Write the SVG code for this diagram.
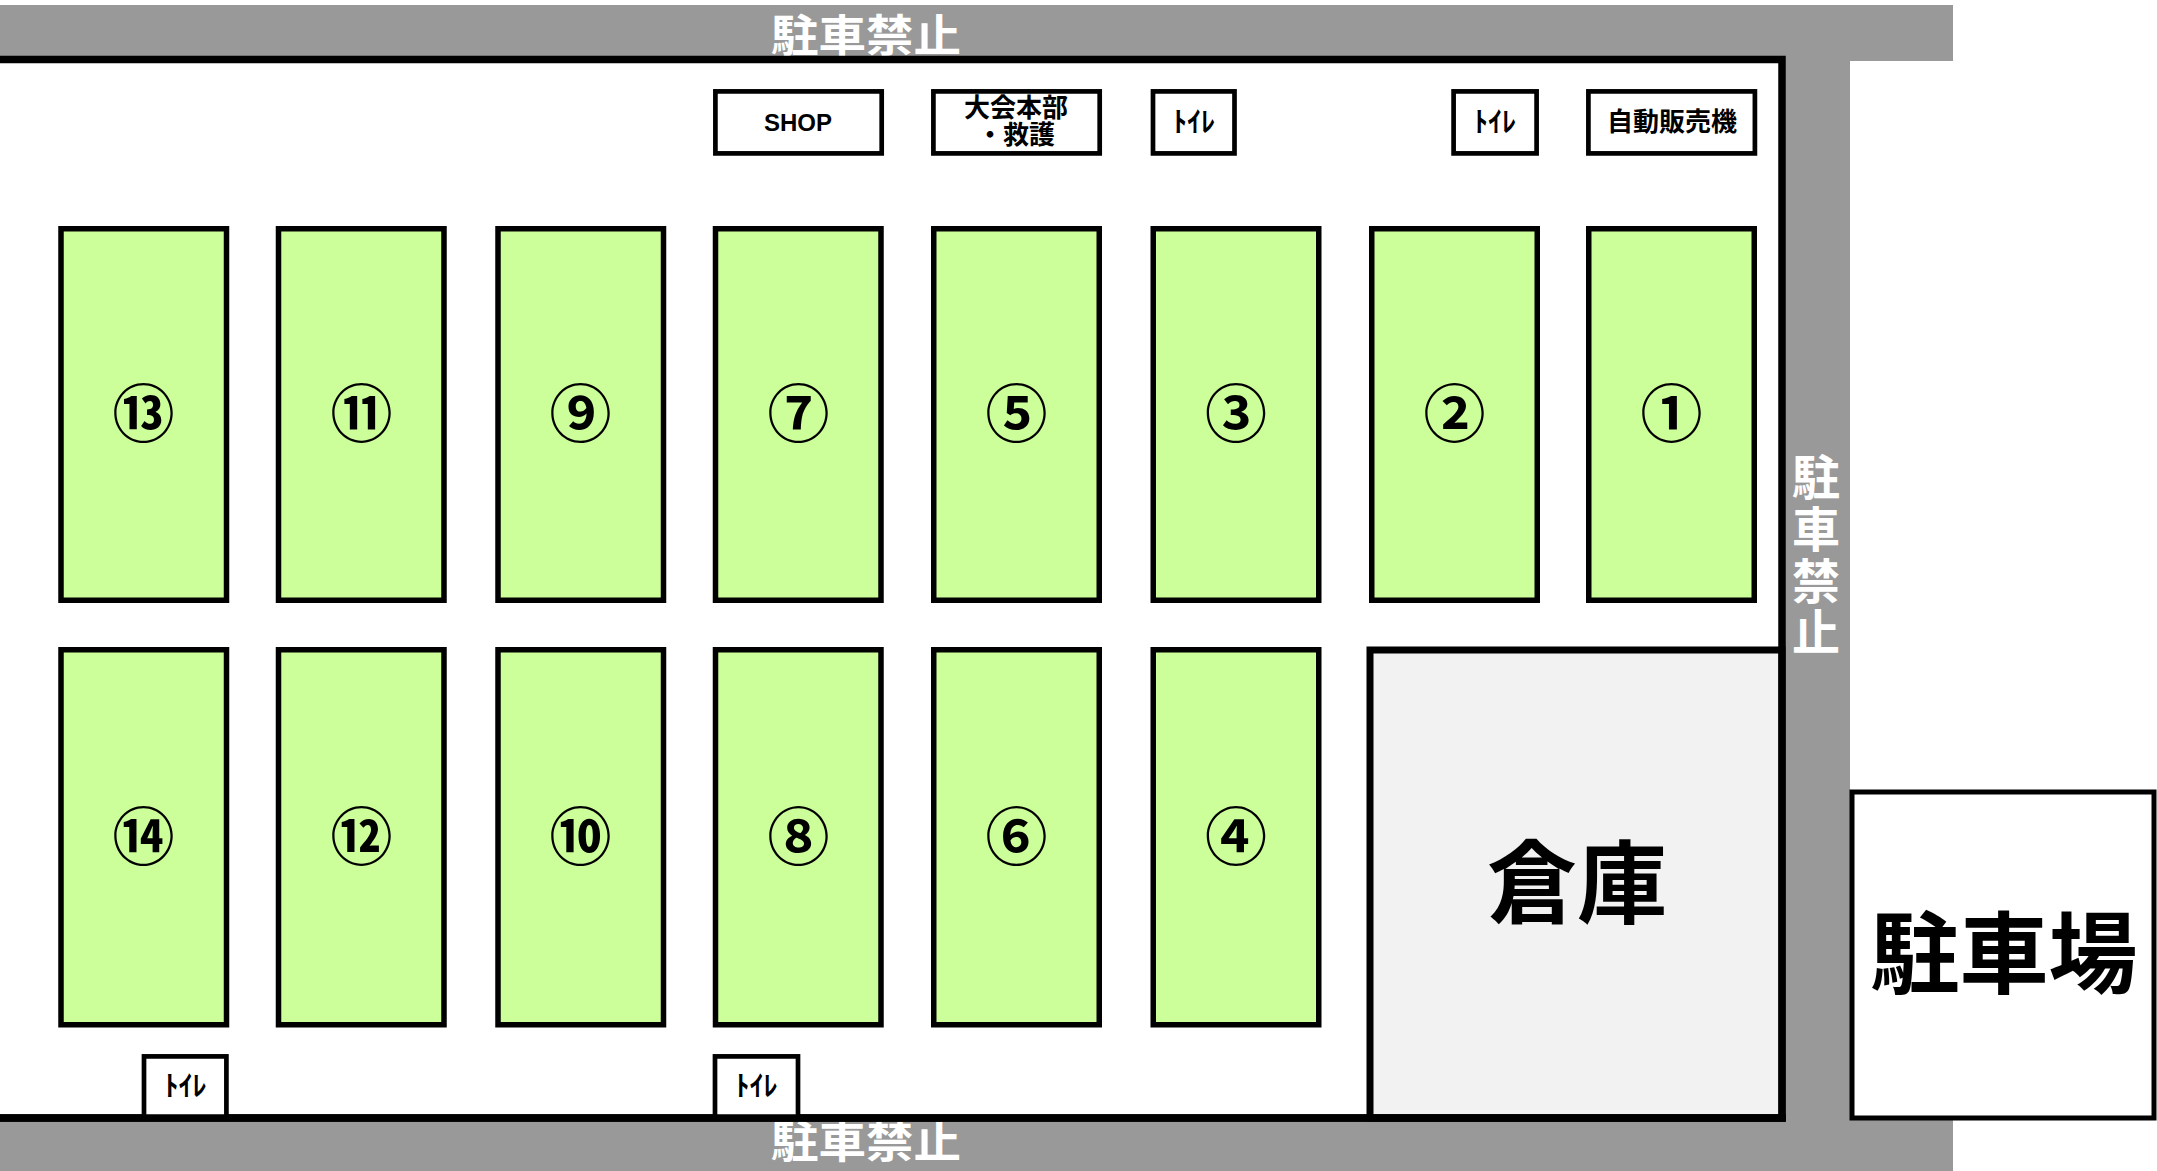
<svg xmlns="http://www.w3.org/2000/svg" width="2157" height="1171" viewBox="0 0 2157 1171">
<style>
.road{fill:#999999}
.stall{fill:#ccff99;stroke:#000;stroke-width:5.5}
.fac{fill:#fff;stroke:#000;stroke-width:4.7}
.jp{font-family:"Noto Sans CJK JP","Noto Sans",sans-serif;font-weight:bold;text-anchor:middle}
.num{font-size:62px;fill:#000}
.no{font-size:44px;fill:#fff}
.lbl{font-size:26px;fill:#000}
.toi{font-size:28px;fill:#000}
</style>
<rect width="2157" height="1171" fill="#fff"/>
<g id="roads">
<rect class="road" x="0" y="5" width="1953" height="56"/>
<rect class="road" x="1782" y="5" width="68" height="1166"/>
<rect class="road" x="0" y="1118" width="1953" height="53"/>
<text class="jp no" x="866" y="51.5" textLength="190" lengthAdjust="spacingAndGlyphs">駐車禁止</text>
<text class="jp no" x="866" y="1158" textLength="190" lengthAdjust="spacingAndGlyphs">駐車禁止</text>
<text x="1816" y="453" font-family="'Noto Sans CJK JP','Noto Sans',sans-serif" font-weight="bold" font-size="48" fill="#fff" writing-mode="vertical-rl" letter-spacing="3.7">駐車禁止</text>
</g>
<g id="warehouse">
<rect x="1370" y="650" width="412" height="468" fill="#f2f2f2" stroke="#000" stroke-width="7"/>
<text class="jp" x="1577" y="916" font-size="90">倉庫</text>
</g>
<g id="frame">
<path d="M0,59.5 H1782 V1118 H0" fill="none" stroke="#000" stroke-width="7.5"/>
</g>
<g id="parking">
<rect x="1852" y="792" width="302" height="326" fill="#fff" stroke="#000" stroke-width="5"/>
<text class="jp" x="2004" y="986" font-size="89">駐車場</text>
</g>
<g id="stalls-row1">
<g id="s13"><rect class="stall" x="61" y="228.75" width="165.5" height="371.5"/><text class="jp num" x="143.5" y="437">⑬</text></g>
<g id="s11"><rect class="stall" x="278.5" y="228.75" width="165.5" height="371.5"/><text class="jp num" x="361.5" y="437">⑪</text></g>
<g id="s9"><rect class="stall" x="498" y="228.75" width="165.5" height="371.5"/><text class="jp num" x="580.5" y="437">⑨</text></g>
<g id="s7"><rect class="stall" x="715.5" y="228.75" width="165.5" height="371.5"/><text class="jp num" x="798.5" y="437">⑦</text></g>
<g id="s5"><rect class="stall" x="933.75" y="228.75" width="165.5" height="371.5"/><text class="jp num" x="1016.5" y="437">⑤</text></g>
<g id="s3"><rect class="stall" x="1153.25" y="228.75" width="165.5" height="371.5"/><text class="jp num" x="1236" y="437">③</text></g>
<g id="s2"><rect class="stall" x="1371.75" y="228.75" width="165.5" height="371.5"/><text class="jp num" x="1454.5" y="437">②</text></g>
<g id="s1"><rect class="stall" x="1588.75" y="228.75" width="165.5" height="371.5"/><text class="jp num" x="1671.5" y="437">①</text></g>
</g>
<g id="stalls-row2">
<g id="s14"><rect class="stall" x="61" y="649.75" width="165.5" height="375"/><text class="jp num" x="143.5" y="860">⑭</text></g>
<g id="s12"><rect class="stall" x="278.5" y="649.75" width="165.5" height="375"/><text class="jp num" x="361.5" y="860">⑫</text></g>
<g id="s10"><rect class="stall" x="498" y="649.75" width="165.5" height="375"/><text class="jp num" x="580.5" y="860">⑩</text></g>
<g id="s8"><rect class="stall" x="715.5" y="649.75" width="165.5" height="375"/><text class="jp num" x="798.5" y="860">⑧</text></g>
<g id="s6"><rect class="stall" x="933.75" y="649.75" width="165.5" height="375"/><text class="jp num" x="1016.5" y="860">⑥</text></g>
<g id="s4"><rect class="stall" x="1153.25" y="649.75" width="165.5" height="375"/><text class="jp num" x="1236" y="860">④</text></g>
</g>
<g id="facilities">
<g id="shop"><rect class="fac" x="715.4" y="91.4" width="166.3" height="62"/><text x="798" y="131" font-family="'Liberation Sans',Arial,sans-serif" font-weight="bold" font-size="24" text-anchor="middle">SHOP</text></g>
<g id="hq"><rect class="fac" x="933.4" y="91.4" width="166.3" height="62"/><text class="jp lbl"><tspan x="1016" y="116.5">大会本部</tspan><tspan x="1016" y="144">・救護</tspan></text></g>
<g id="wc1"><rect class="fac" x="1153" y="91.4" width="81.5" height="62"/><text class="jp toi" x="1194" y="132">ﾄｲﾚ</text></g>
<g id="wc2"><rect class="fac" x="1453.6" y="91.4" width="83" height="62"/><text class="jp toi" x="1495" y="132">ﾄｲﾚ</text></g>
<g id="vending"><rect class="fac" x="1588.4" y="91.4" width="166.5" height="62"/><text class="jp lbl" x="1672" y="131">自動販売機</text></g>
<g id="wc3"><rect class="fac" x="144" y="1056.4" width="82.4" height="62"/><text class="jp toi" x="185.5" y="1096">ﾄｲﾚ</text></g>
<g id="wc4"><rect class="fac" x="715" y="1056.4" width="83" height="62"/><text class="jp toi" x="756.5" y="1096">ﾄｲﾚ</text></g>
</g>
<g id="connectors"></g>
<path d="M0,1118 H1786" stroke="#000" stroke-width="7.5"/>
</svg>
